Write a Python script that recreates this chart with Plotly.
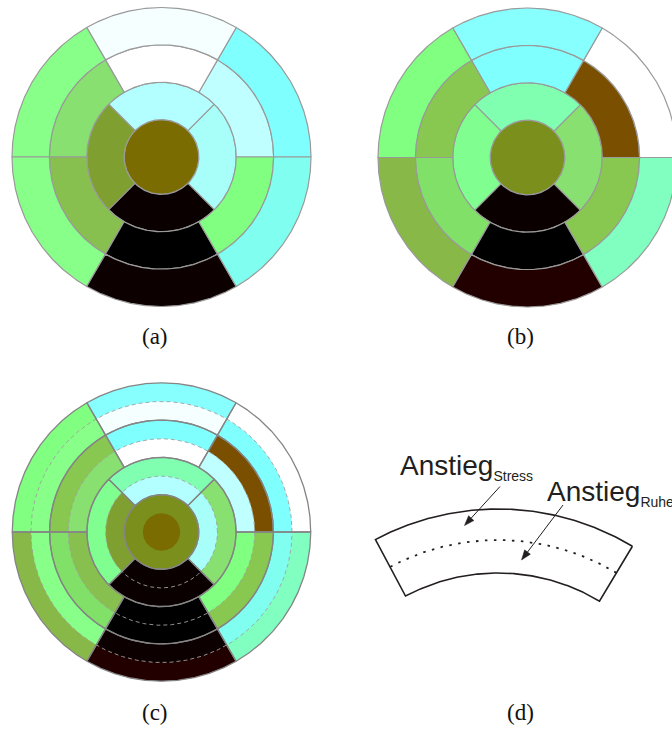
import numpy as np
import plotly.graph_objects as go

W, H = 672, 729

# Segment colours of the 17-segment bullseye (colour-coded upslope).
# apex: one disc; apical ring: right, top, left, bottom;
# mid / basal rings: 0-60, 60-120, 120-180, 180-240, 240-300, 300-360 degrees
ruhe_apex = ["#7a6c00"]
ruhe_apical = ["#a8fffa", "#b3ffff", "#7fa030", "#0a0000"]
ruhe_mid = ["#c0ffff", "#ffffff", "#88e070", "#88c050", "#000000", "#80ff80"]
ruhe_basal = ["#80ffff", "#f5ffff", "#88ff88", "#88ff88", "#0d0000", "#80fff0"]

stress_apex = ["#7b901c"]
stress_apical = ["#88e070", "#80ffb0", "#80ff90", "#0a0000"]
stress_mid = ["#7a5000", "#80ffff", "#88c850", "#80e068", "#000000", "#88c850"]
stress_basal = ["#ffffff", "#88ffff", "#80ff80", "#88b848", "#220000", "#80ffc0"]

ruhe_rings = [ruhe_apex, ruhe_apical, ruhe_mid, ruhe_basal]
stress_rings = [stress_apex, stress_apical, stress_mid, stress_basal]

# angle where the first segment of each ring begins (degrees, CCW from 3 o'clock)
RING_START = [0, -45, 0, 0]

panel_labels = ["(a)", "(b)", "(c)", "(d)"]
label_stress = "Stress"
label_ruhe = "Ruhe"

# ---- layout of the panels (canvas units = pixels) ----
PANEL_A = (161.5, 157.0, 149.5)
PANEL_B = (527.5, 157.5, 149.5)
PANEL_C = (161.5, 532.0, 149.2)
CAPTIONS = [(155, 336), (520, 336), (155, 712), (520, 712)]

BORDER = "#9a9a9a"
BORDER_C = "#858585"
DASH_C = "#a0a0a0"
INK = "#231f20"

fig = go.Figure()


def arc(cx, cy, r, a0, a1, n=160):
    t = np.radians(np.linspace(a0, a1, n))
    return cx + r * np.cos(t), cy - r * np.sin(t)


def sector(cx, cy, r0, r1, a0, a1):
    xo, yo = arc(cx, cy, r1, a0, a1)
    if r0 <= 0:
        if a1 - a0 >= 360:
            return xo, yo
        xi, yi = np.array([cx]), np.array([cy])
    else:
        xi, yi = arc(cx, cy, r0, a1, a0)
    x = np.concatenate([xo, xi, xo[:1]])
    y = np.concatenate([yo, yi, yo[:1]])
    return x, y


def add_path(x, y, fill=None, color=None, width=0.0, dash=None):
    fig.add_trace(go.Scatter(
        x=x, y=y, mode="lines",
        fill="toself" if fill else "none",
        fillcolor=fill,
        line=dict(color=color or "rgba(0,0,0,0)", width=width, dash=dash),
        hoverinfo="skip", showlegend=False,
    ))


def segments(ring):
    n = len(ruhe_rings[ring])
    step = 360.0 / n
    s = RING_START[ring]
    return [(s + j * step, s + (j + 1) * step) for j in range(n)]


def bullseye(panel, rings):
    cx, cy, R = panel
    dr = R / 4
    for k, colours in enumerate(rings):
        for (a0, a1), col in zip(segments(k), colours):
            x, y = sector(cx, cy, k * dr, (k + 1) * dr, a0, a1)
            add_path(x, y, fill=col, color=BORDER, width=1.2)


def split_bullseye(panel):
    """Each segment: outer half = stress, inner half = rest."""
    cx, cy, R = panel
    dr = R / 4
    for k in range(4):
        for (a0, a1), cs, cr in zip(segments(k), stress_rings[k], ruhe_rings[k]):
            r0, r1 = k * dr, (k + 1) * dr
            x, y = sector(cx, cy, r0, r1, a0, a1)
            add_path(x, y, fill=cs)
            x, y = sector(cx, cy, r0, (r0 + r1) / 2, a0, a1)
            add_path(x, y, fill=cr)
    for k in range(1, 4):
        x, y = arc(cx, cy, (k + 0.5) * dr, 0, 360, 400)
        add_path(x, y, color=DASH_C, width=0.9, dash="4px,3px")
    for k in range(4):
        for a0, a1 in segments(k):
            x, y = sector(cx, cy, k * dr, (k + 1) * dr, a0, a1)
            add_path(x, y, color=BORDER_C, width=1.3)


bullseye(PANEL_A, ruhe_rings)
bullseye(PANEL_B, stress_rings)
split_bullseye(PANEL_C)

# ---- panel (d): sketch of one split segment ----
D_CX, D_CY = 498.0, 770.0
D_R_IN, D_R_MID, D_R_OUT = 197.0, 230.0, 261.0
D_A0, D_A1 = 59.0, 118.0

xo, yo = arc(D_CX, D_CY, D_R_OUT, D_A0, D_A1)
xi, yi = arc(D_CX, D_CY, D_R_IN, D_A1, D_A0)
add_path(np.concatenate([xo, xi, xo[:1]]), np.concatenate([yo, yi, yo[:1]]),
         color=INK, width=1.6)
xm, ym = arc(D_CX, D_CY, D_R_MID, D_A0, D_A1)
add_path(xm, ym, color=INK, width=1.8, dash="2.5px,6.5px")

# pointer arrows: (tail, head)
ARROWS = [((500.0, 486.5), (464.5, 525.5)),
          ((563.0, 505.0), (521.5, 560.0))]
HEAD_LEN, HEAD_HALF = 10.0, 3.6
for (tx, ty), (hx, hy) in ARROWS:
    d = np.array([hx - tx, hy - ty])
    u = d / np.hypot(*d)
    nrm = np.array([-u[1], u[0]])
    base = np.array([hx, hy]) - HEAD_LEN * u
    add_path([tx, base[0]], [ty, base[1]], color=INK, width=1.0)
    p1 = base + HEAD_HALF * nrm
    p2 = base - HEAD_HALF * nrm
    add_path([hx, p1[0], p2[0], hx], [hy, p1[1], p2[1], hy],
             fill=INK, color=INK, width=0.5)

annotations = []
for (x, y), txt in zip(CAPTIONS, panel_labels):
    annotations.append(dict(
        x=x, y=y, xref="x", yref="y", text=txt, showarrow=False,
        xanchor="center", yanchor="middle",
        font=dict(family="Liberation Serif", size=23, color="#111111"),
    ))

for x, y, sub in [(400, 467, label_stress), (547, 492.5, label_ruhe)]:
    annotations.append(dict(
        x=x, y=y, xref="x", yref="y",
        text="Anstieg<sub><span style='font-size:14px'>%s</span></sub>" % sub,
        showarrow=False, xanchor="left", yanchor="middle",
        borderpad=0, borderwidth=0,
        font=dict(family="Liberation Sans", size=28, color=INK),
    ))

fig.update_layout(
    width=W, height=H,
    margin=dict(l=0, r=0, t=0, b=0),
    paper_bgcolor="white", plot_bgcolor="white",
    showlegend=False,
    annotations=annotations,
)
fig.update_xaxes(range=[0, W], visible=False, fixedrange=True)
fig.update_yaxes(range=[H, 0], visible=False, fixedrange=True)

fig.write_html("out.html")
